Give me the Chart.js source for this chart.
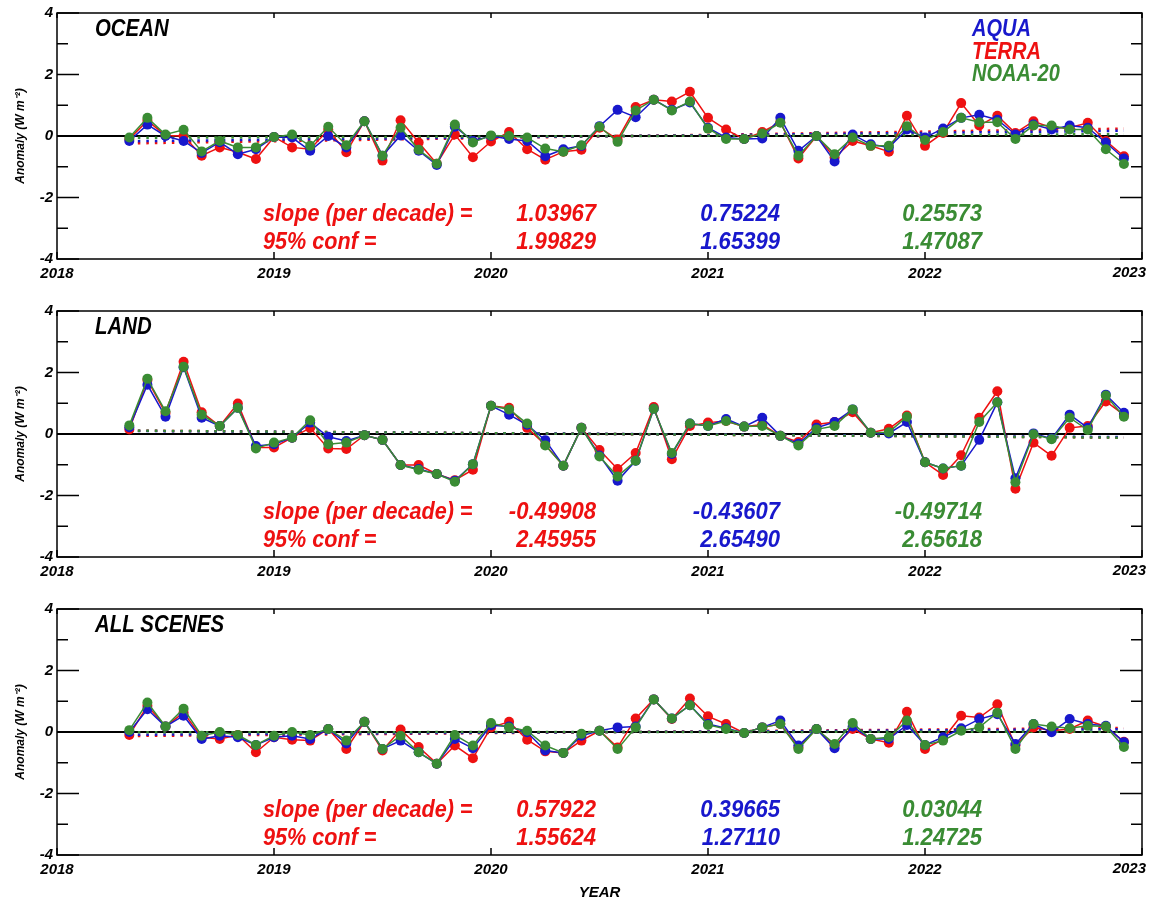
<!DOCTYPE html>
<html>
<head>
<meta charset="utf-8">
<script src="https://cdn.jsdelivr.net/npm/chart.js@4.4.1/dist/chart.umd.min.js"></script>
<style>
  body { margin: 0; background: #fff; width: 1158px; height: 906px; overflow: hidden; position: relative; }
  .panel { position: absolute; left: 0; width: 1158px; }
</style>
</head>
<body>
<div class="panel" style="top:0;height:298px"><canvas id="ocean"></canvas></div>
<div class="panel" style="top:298px;height:298px"><canvas id="land"></canvas></div>
<div class="panel" style="top:596px;height:310px"><canvas id="all"></canvas></div>
<script>
// monthly anomalies, May 2018 .. Dec 2022
const firstMonth = 2018 + 4 / 12;
const yearTicks = [2018, 2019, 2020, 2021, 2022, 2023];

const oceanAqua = [-0.16, 0.37, 0.0, -0.16, -0.55, -0.2, -0.59, -0.43, -0.03, -0.05, -0.48, 0.0, -0.37, 0.48, -0.64, 0.02, -0.48, -0.94, 0.3, -0.16, 0.0, -0.1, -0.16, -0.66, -0.43, -0.32, 0.32, 0.85, 0.61, 1.18, 0.85, 1.09, 0.27, -0.05, -0.1, -0.08, 0.59, -0.48, 0.0, -0.83, 0.05, -0.27, -0.37, 0.21, -0.05, 0.24, 0.59, 0.69, 0.53, 0.05, 0.37, 0.21, 0.34, 0.27, -0.21, -0.73];
const oceanTerra = [-0.1, 0.5, 0.02, 0.0, -0.64, -0.37, -0.53, -0.75, -0.03, -0.37, -0.43, 0.2, -0.53, 0.48, -0.8, 0.51, -0.21, -0.9, 0.05, -0.69, -0.18, 0.13, -0.43, -0.77, -0.51, -0.45, 0.27, -0.11, 0.94, 1.18, 1.12, 1.44, 0.59, 0.21, -0.1, 0.13, 0.45, -0.73, 0.0, -0.7, -0.16, -0.32, -0.51, 0.66, -0.32, 0.1, 1.07, 0.34, 0.66, 0.1, 0.48, 0.27, 0.27, 0.43, -0.16, -0.66];
const oceanNoaa = [-0.05, 0.59, 0.05, 0.2, -0.5, -0.16, -0.37, -0.37, -0.03, 0.05, -0.32, 0.3, -0.3, 0.48, -0.64, 0.27, -0.45, -0.9, 0.37, -0.21, 0.02, 0.0, -0.05, -0.41, -0.51, -0.3, 0.3, -0.19, 0.83, 1.18, 0.83, 1.12, 0.24, -0.1, -0.1, 0.08, 0.43, -0.64, 0.0, -0.59, -0.05, -0.32, -0.32, 0.32, -0.13, 0.13, 0.59, 0.45, 0.45, -0.1, 0.34, 0.34, 0.21, 0.21, -0.43, -0.91];

const landAqua = [0.22, 1.6, 0.56, 2.17, 0.53, 0.26, 0.85, -0.39, -0.33, -0.12, 0.37, -0.09, -0.23, -0.04, -0.19, -1.01, -1.14, -1.3, -1.52, -0.98, 0.92, 0.63, 0.3, -0.2, -1.03, 0.2, -0.7, -1.52, -0.87, 0.82, -0.65, 0.34, 0.26, 0.49, 0.24, 0.53, -0.06, -0.32, 0.2, 0.39, 0.8, 0.04, 0.02, 0.39, -0.92, -1.12, -1.03, -0.19, 1.03, -1.44, 0.02, -0.15, 0.63, 0.2, 1.28, 0.69];
const landTerra = [0.15, 1.76, 0.68, 2.35, 0.71, 0.26, 0.99, -0.44, -0.44, -0.12, 0.2, -0.47, -0.49, -0.04, -0.19, -1.01, -1.01, -1.3, -1.5, -1.16, 0.92, 0.85, 0.2, -0.35, -1.03, 0.2, -0.52, -1.14, -0.62, 0.88, -0.82, 0.26, 0.37, 0.42, 0.24, 0.31, -0.06, -0.26, 0.31, 0.39, 0.71, 0.04, 0.17, 0.6, -0.92, -1.33, -0.69, 0.53, 1.39, -1.78, -0.28, -0.71, 0.2, 0.26, 1.06, 0.62];
const landNoaa = [0.28, 1.8, 0.74, 2.19, 0.63, 0.26, 0.85, -0.47, -0.28, -0.12, 0.45, -0.33, -0.28, -0.04, -0.19, -1.01, -1.16, -1.3, -1.55, -0.98, 0.92, 0.8, 0.34, -0.37, -1.03, 0.2, -0.73, -1.38, -0.87, 0.82, -0.62, 0.34, 0.26, 0.42, 0.24, 0.26, -0.06, -0.37, 0.15, 0.26, 0.8, 0.04, 0.06, 0.56, -0.92, -1.12, -1.03, 0.39, 1.03, -1.57, -0.01, -0.17, 0.53, 0.13, 1.25, 0.56];

const allAqua = [0.0, 0.74, 0.18, 0.53, -0.23, -0.12, -0.17, -0.42, -0.17, -0.12, -0.23, 0.1, -0.37, 0.33, -0.55, -0.28, -0.66, -1.03, -0.23, -0.53, 0.22, 0.18, -0.01, -0.6, -0.68, -0.12, 0.04, 0.15, 0.18, 1.06, 0.44, 0.87, 0.26, 0.12, -0.03, 0.15, 0.37, -0.44, 0.1, -0.53, 0.18, -0.23, -0.23, 0.23, -0.42, -0.17, 0.12, 0.42, 0.58, -0.39, 0.26, -0.01, 0.42, 0.26, 0.2, -0.33];
const allTerra = [-0.1, 0.85, 0.18, 0.63, -0.17, -0.23, -0.1, -0.66, -0.17, -0.25, -0.28, 0.1, -0.55, 0.33, -0.6, 0.08, -0.49, -1.03, -0.44, -0.85, 0.15, 0.33, -0.25, -0.63, -0.68, -0.28, 0.04, -0.5, 0.44, 1.06, 0.42, 1.09, 0.51, 0.26, -0.03, 0.15, 0.26, -0.5, 0.1, -0.43, 0.1, -0.23, -0.35, 0.66, -0.55, -0.23, 0.53, 0.47, 0.9, -0.44, 0.15, 0.04, 0.1, 0.37, 0.18, -0.32];
const allNoaa = [0.06, 0.96, 0.18, 0.76, -0.12, 0.0, -0.1, -0.42, -0.12, 0.0, -0.1, 0.1, -0.28, 0.33, -0.55, -0.12, -0.66, -1.03, -0.1, -0.44, 0.29, 0.15, 0.04, -0.44, -0.68, -0.06, 0.04, -0.55, 0.15, 1.06, 0.44, 0.87, 0.23, 0.1, -0.03, 0.15, 0.26, -0.55, 0.1, -0.39, 0.29, -0.23, -0.17, 0.37, -0.42, -0.28, 0.04, 0.15, 0.63, -0.55, 0.26, 0.18, 0.12, 0.2, 0.18, -0.49];

// trend line end values [first month, last month]: terra, aqua, noaa
const oceanTrend = [[-0.24, 0.24], [-0.17, 0.17], [-0.06, 0.06]];
const landTrend = [[0.11, -0.12], [0.1, -0.1], [0.11, -0.12]];
const allTrend = [[-0.13, 0.13], [-0.09, 0.09], [-0.01, 0.01]];

// slope per decade and 95% conf: terra, aqua, noaa
const oceanSlope = [1.03967, 0.75224, 0.25573];
const oceanConf = [1.99829, 1.65399, 1.47087];
const landSlope = [-0.49908, -0.43607, -0.49714];
const landConf = [2.45955, 2.65490, 2.65618];
const allSlope = [0.57922, 0.39665, 0.03044];
const allConf = [1.55624, 1.27110, 1.24725];

const RED = '#ee1111', BLUE = '#1818cc', GREEN = '#3a8c34';
const FAMILY = '"Liberation Sans", Arial, sans-serif';
Chart.defaults.font.family = FAMILY;
Chart.defaults.color = '#000';

const months = oceanAqua.map((_, i) => firstMonth + i / 12);
const lastMonth = months[months.length - 1];
const lastYear = yearTicks[yearTicks.length - 1];

function series(values) {
  return values.map((v, i) => ({ x: months[i], y: v }));
}

function lineSet(values, color) {
  return {
    data: series(values), borderColor: color, backgroundColor: color,
    borderWidth: 1.5, pointRadius: 5, pointBorderWidth: 0, pointBackgroundColor: color
  };
}

function trendSet(ends, color) {
  return {
    data: [{ x: firstMonth, y: ends[0] }, { x: lastMonth, y: ends[1] }],
    borderColor: color, borderWidth: 2.5, borderDash: [2.5, 6], pointRadius: 0
  };
}

// condensed bold italic text, like the original plot font
function narrowText(ctx, text, x, y, size, color, align, sx) {
  ctx.save();
  ctx.translate(x, y);
  ctx.scale(sx, 1);
  ctx.font = 'italic bold ' + size + 'px ' + FAMILY;
  ctx.fillStyle = color;
  ctx.textAlign = align;
  ctx.fillText(text, 0, 0);
  ctx.restore();
}

const frame = {
  id: 'frame',
  beforeDatasetsDraw(chart) {
    const { ctx, chartArea: a, scales: { y } } = chart;
    const y0 = y.getPixelForValue(0);
    ctx.save();
    ctx.strokeStyle = '#000';
    ctx.lineWidth = 2;
    ctx.beginPath();
    ctx.moveTo(a.left, y0);
    ctx.lineTo(a.right, y0);
    ctx.stroke();
    ctx.restore();
  },
  afterDraw(chart) {
    const { ctx, chartArea: a, scales: { x, y } } = chart;
    ctx.save();
    ctx.strokeStyle = '#000';
    ctx.lineWidth = 1.5;
    ctx.strokeRect(a.left, a.top, a.width, a.height);
    ctx.beginPath();
    y.ticks.forEach((t) => {
      const py = y.getPixelForValue(t.value);
      const len = t.value % 2 === 0 ? 22 : 11;
      ctx.moveTo(a.left, py); ctx.lineTo(a.left + len, py);
      ctx.moveTo(a.right, py); ctx.lineTo(a.right - len, py);
    });
    x.ticks.forEach((t) => {
      const px = x.getPixelForValue(t.value);
      ctx.moveTo(px, a.bottom); ctx.lineTo(px, a.bottom - 7);
      ctx.moveTo(px, a.top); ctx.lineTo(px, a.top + 5);
    });
    ctx.stroke();

    // the last year label sits inside the frame edge, as in the original
    ctx.font = 'italic bold 15px ' + FAMILY;
    ctx.fillStyle = '#000';
    ctx.textAlign = 'right';
    ctx.textBaseline = 'middle';
    ctx.fillText(String(lastYear), x.getPixelForValue(lastYear) + 4, a.bottom + 14);
    ctx.restore();

    const n = chart.options.plugins.notes;
    narrowText(ctx, n.title, 95, 36, 24, '#000', 'left', 0.85);
    narrowText(ctx, 'slope (per decade) =', 263, 221, 24, RED, 'left', 0.9);
    narrowText(ctx, '95% conf =', 263, 249, 24, RED, 'left', 0.9);
    const cols = [[596, RED], [780, BLUE], [982, GREEN]];
    cols.forEach(([cx, c], i) => {
      narrowText(ctx, n.slope[i].toFixed(5), cx, 221, 24, c, 'right', 0.92);
      narrowText(ctx, n.conf[i].toFixed(5), cx, 249, 24, c, 'right', 0.92);
    });

    if (n.legend) {
      [['AQUA', BLUE], ['TERRA', RED], ['NOAA-20', GREEN]].forEach(([s, c], i) => {
        narrowText(ctx, s, 972, 36 + i * 22.5, 23, c, 'left', 0.87);
      });
    }
  }
};

function makePanel(id, aqua, terra, noaa, trend, slope, conf, title, legend, last) {
  const tickFont = { family: FAMILY, size: 15, style: 'italic', weight: 'bold' };
  return new Chart(document.getElementById(id), {
    type: 'line',
    plugins: [frame],
    data: {
      datasets: [
        lineSet(noaa, GREEN),
        lineSet(aqua, BLUE),
        lineSet(terra, RED),
        trendSet(trend[2], GREEN),
        trendSet(trend[1], BLUE),
        trendSet(trend[0], RED)
      ]
    },
    options: {
      responsive: true,
      maintainAspectRatio: false,
      animation: false,
      layout: { padding: { top: 12, right: 16, left: 0, bottom: 0 } },
      plugins: {
        legend: { display: false },
        tooltip: { enabled: false },
        notes: { title: title, slope: slope, conf: conf, legend: legend }
      },
      scales: {
        x: {
          type: 'linear', min: 2018, max: 2023,
          afterBuildTicks: (s) => { s.ticks = yearTicks.map((v) => ({ value: v })); },
          ticks: { callback: (v) => (v === lastYear ? '' : String(v)), font: tickFont, padding: 6, maxRotation: 0 },
          grid: { display: false, drawTicks: false },
          border: { display: false },
          title: { display: last, text: 'YEAR', font: { family: FAMILY, size: 15, style: 'italic', weight: 'bold' }, padding: { top: 12 } },
          afterFit: (s) => { s.height = last ? 51 : 39; }
        },
        y: {
          min: -4, max: 4,
          ticks: { stepSize: 1, callback: (v) => (v % 2 === 0 ? String(v) : ''), font: tickFont, padding: 4 },
          grid: { display: false, drawTicks: false },
          border: { display: false },
          title: { display: true, text: 'Anomaly (W m\u207B\u00B2)', font: { family: FAMILY, size: 12, style: 'italic', weight: 'bold' }, padding: { top: 13, bottom: 0 } },
          afterFit: (s) => { s.width = 57; }
        }
      }
    }
  });
}

makePanel('ocean', oceanAqua, oceanTerra, oceanNoaa, oceanTrend, oceanSlope, oceanConf, 'OCEAN', true, false);
makePanel('land', landAqua, landTerra, landNoaa, landTrend, landSlope, landConf, 'LAND', false, false);
makePanel('all', allAqua, allTerra, allNoaa, allTrend, allSlope, allConf, 'ALL SCENES', false, true);
</script>
</body>
</html>
